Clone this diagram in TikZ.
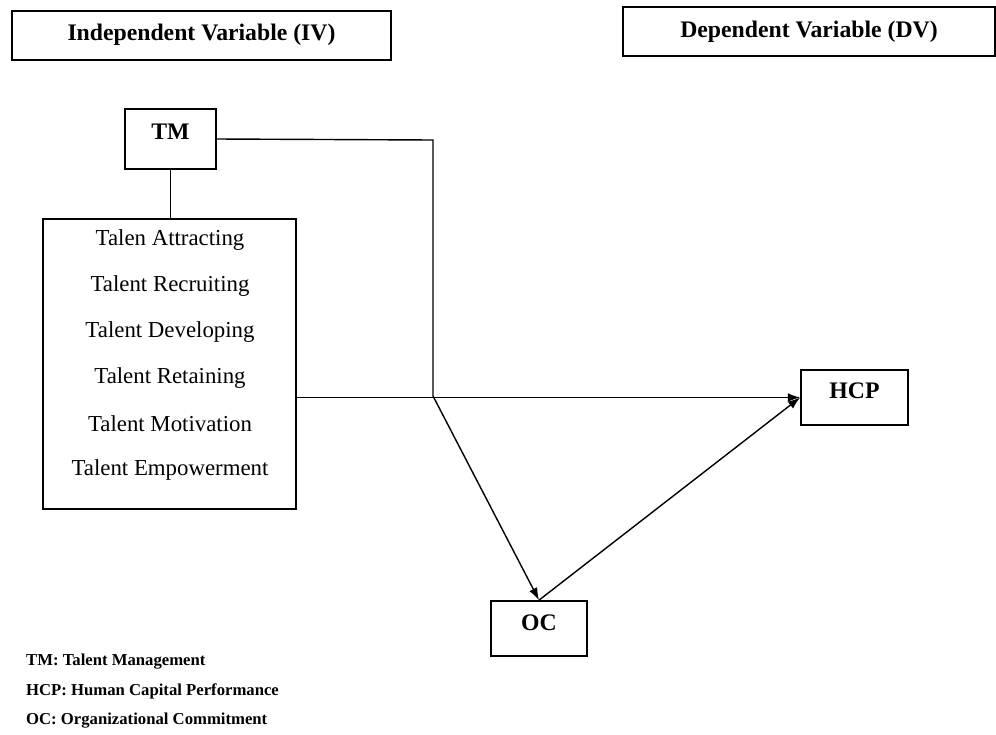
\documentclass[tikz,border=0pt]{standalone}
\usepackage{fontspec}
\setmainfont{Liberation Serif}
\usetikzlibrary{arrows.meta,positioning,calc}

\begin{document}
\begin{tikzpicture}[x=0.02cm, y=-0.02cm,
  box/.style={draw, line width=1pt, inner sep=0pt},
  varlabel/.style={font=\bfseries\fontsize{13.5}{16}\selectfont},
  link/.style={line width=0.8pt},
  arr/.style={-{Latex[length=7pt,width=5pt]}}]
\useasboundingbox (0,0) rectangle (996,734);

% Header boxes
\node[box, varlabel, text depth=0.14cm, minimum width=7.58cm, minimum height=0.98cm] (iv) at (201.5,35.5) {Independent Variable (IV)};
\node[box, varlabel, text depth=0.1cm, minimum width=7.44cm, minimum height=0.98cm] (dv) at (809,31.5) {Dependent Variable (DV)};

% Variables
\node[box, varlabel, text depth=0.28cm, minimum width=1.82cm, minimum height=1.2cm] (tm) at (170.5,139) {TM};
\node[box, minimum width=5.06cm, minimum height=5.8cm] (dims) at (169.5,364) {};
\node[box, varlabel, text depth=0.26cm, minimum width=2.14cm, minimum height=1.1cm] (hcp) at (854.5,397.5) {HCP};
\node[box, varlabel, text depth=0.24cm, minimum width=1.92cm, minimum height=1.1cm] (oc) at (539,628.5) {OC};

% Dimensions of TM
\foreach \i/\txt in {0/Talen Attracting, 1/Talent Recruiting, 2/Talent Developing,
                     3/Talent Retaining, 4/Talent Motivation, 5/Talent Empowerment} {
  \node[font=\fontsize{13}{15}\selectfont] (dim\i) at (170, 240 + \i*46) {\txt};
}

% Connectors
\coordinate (turn) at (433,140);
\coordinate (junc) at (433,396);
\draw[link] (tm.south) -- (tm.south |- dims.north);
\draw[link] (tm.east) -- (turn) -- (junc);
\draw[link, arr] (dims.east |- hcp.west) -- (hcp.west);
\draw[link, arr] (junc) -- (oc.north);
\draw[link, arr] (oc.north) -- (hcp.west);

% Legend
\node[anchor=west, font=\bfseries\fontsize{9.5}{11}\selectfont] (lgtm) at (20,662) {TM: Talent Management};
\node[anchor=west, font=\bfseries\fontsize{9.5}{11}\selectfont] (lghcp) at (20,691) {HCP: Human Capital Performance};
\node[anchor=west, font=\bfseries\fontsize{9.5}{11}\selectfont] (lgoc) at (20,721) {OC: Organizational Commitment};

\end{tikzpicture}
\end{document}
